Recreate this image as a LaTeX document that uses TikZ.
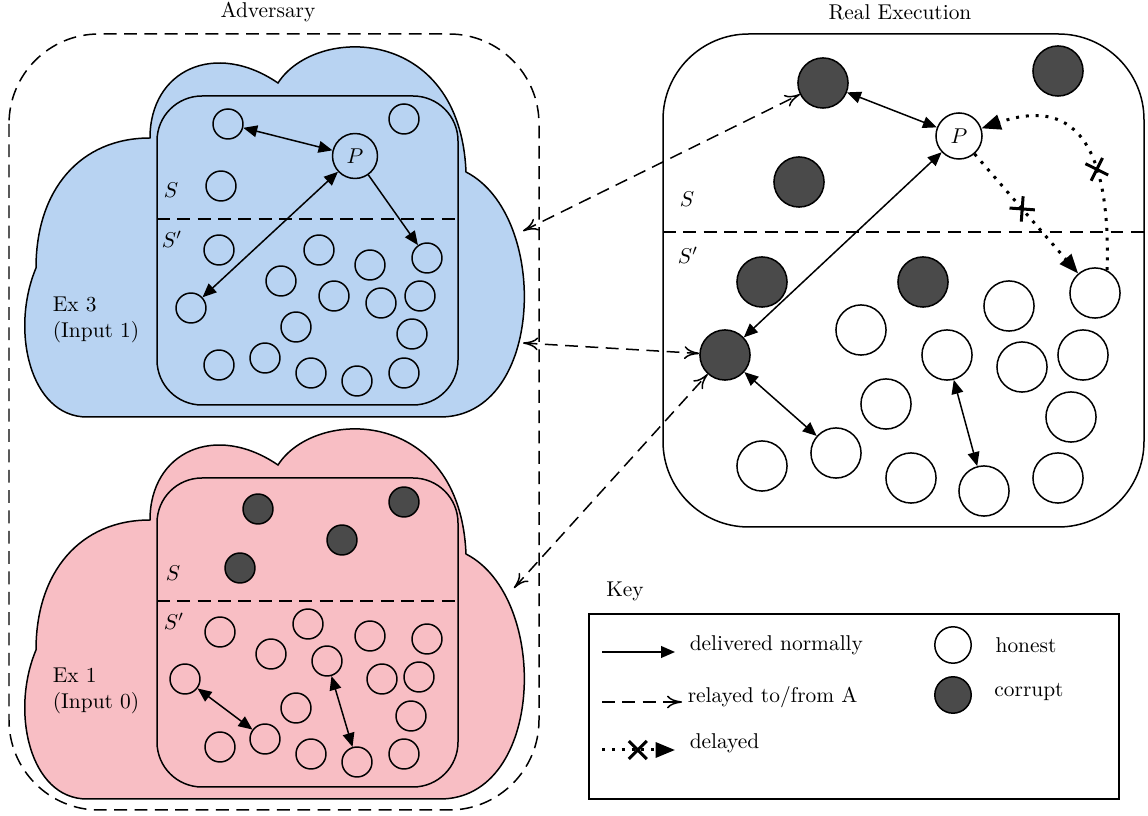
\documentclass[tikz,border=0pt]{standalone}
\usepackage{amsmath, amssymb}
\usepackage{tikz}
\usetikzlibrary{arrows.meta, positioning, shapes.misc}
\definecolor{cloudblue}{RGB}{184,211,242}
\definecolor{cloudpink}{RGB}{248,190,196}
\definecolor{corruptgray}{RGB}{74,74,74}
\tikzset{
    whitenode/.style={circle, draw, minimum size=14pt, inner sep=0pt},
    blacknode/.style={circle, draw, fill=corruptgray, minimum size=14pt, inner sep=0pt},
    bignode/.style={minimum size=23.4pt},
    keynode/.style={minimum size=17pt},
    pnode/.style={circle, draw, minimum size=21pt, inner sep=0pt},
    sepline/.style={dash pattern=on 6pt off 3.5pt},
    relaytip/.tip={Computer Modern Rightarrow[length=7pt,width=6pt]},
    dtip/.tip={Triangle[length=9pt,width=7pt]},
    relay/.style={sepline, relaytip-relaytip},
    delayed/.style={line width=1.4pt, dash pattern=on 1.4pt off 3.2pt, -dtip},
    xmark/.style={cross out, draw, solid, line width=1.4pt, minimum size=7pt, inner sep=0pt},
    keytext/.style={anchor=west, inner sep=0pt}
}

\begin{document}
\begin{tikzpicture}[x=0.467pt, y=-0.467pt, line width=0.7pt, >={Triangle[length=6.5pt,width=5.5pt]}]
\useasboundingbox (0,0) rectangle (1148,816);

% adversary side
\node (adv) at (268,12) {Adversary};
\draw[sepline, rounded corners=42pt] (9,34) rectangle (539,810);
\foreach \dy/\col in {0/cloudblue, 382/cloudpink} {
    \filldraw[fill=\col, shift={(0,\dy)}] (87,417) .. controls (30,417) and (10,330) .. (36,268)
        .. controls (36,190) and (80,138) .. (150,138)
        .. controls (150,70) and (215,40) .. (278,83)
        .. controls (315,25) and (460,25) .. (466,172)
        .. controls (550,215) and (545,417) .. (440,417) -- cycle;
    \draw[shift={(0,\dy)}, rounded corners=21pt] (157,96) rectangle (458,405);
    \draw[sepline, shift={(0,\dy)}] (157,219) -- (458,219);
}
\node[anchor=west, align=left] (ex3) at (45,320) {Ex 3\\(Input 1)};
\node[anchor=west, align=left] (ex1) at (45,691) {Ex 1\\(Input 0)};
\node (sb) at (171,190) {$S$};
\node (sbp) at (172,239) {$S'$};
\node (sp) at (173,573) {$S$};
\node (spp) at (174,621) {$S'$};

% execution 3
\foreach \px/\py [count=\i] in {228/124, 404/119, 221/186, 219/250, 319/250, 370/265, 427/258,
    281/281, 334/296, 381/303, 420/296, 191/308, 296/327, 412/334, 219/365, 265/358, 311/373,
    357/381, 404/373}
    \node[whitenode] (b\i) at (\px,\py) {};
\node[pnode] (bP) at (355,156) {$P$};
\draw[<->] (b1) -- (bP);
\draw[<->] (bP) -- (b12);
\draw[->] (bP) -- (b7);

% execution 1
\foreach \px/\py [count=\i] in {258/509, 404/502, 342/540, 240/568}
    \node[blacknode] (r\i) at (\px,\py) {};
\foreach \px/\py [count=\i] in {220/632, 308/624, 370/636, 427/639, 271/654, 327/661, 185/679,
    382/679, 419/677, 296/708, 411/716, 220/747, 265/739, 311/754, 357/762, 404/754}
    \node[whitenode] (p\i) at (\px,\py) {};
\draw[<->] (p7) -- (p13);
\draw[<->] (p6) -- (p15);

% real execution
\node (real) at (900,12) {Real Execution};
\draw[rounded corners=40pt] (663,34) rectangle (1144,527);
\draw[sepline] (663,232) -- (1144,232);
\node (sr) at (687,199) {$S$};
\node (srp) at (688,255) {$S'$};
\foreach \px/\py [count=\i] in {823/83, 1058/71, 799/182, 762/282, 923/282, 725/355}
    \node[blacknode, bignode] (c\i) at (\px,\py) {};
\foreach \px/\py [count=\i] in {1095/293, 1009/306, 861/330, 947/355, 1022/367, 1083/355,
    886/404, 1071/417, 762/466, 836/453, 911/478, 984/491, 1058/478}
    \node[whitenode, bignode] (w\i) at (\px,\py) {};
\node[pnode, minimum size=21.5pt] (rP) at (959,136) {$P$};
\draw[<->] (c1) -- (rP);
\draw[<->] (rP) -- (c6);
\draw[<->] (c6) -- (w10);
\draw[<->] (w4) -- (w12);
\draw[delayed] (rP) -- node[xmark, sloped, pos=0.46] {} (w1);
\draw[delayed] (w1.62) .. controls (1112,110) and (1050,105) .. node[xmark, sloped, pos=0.28] {} (rP);

% relayed through the adversary
\coordinate (bA) at (523,231);
\coordinate (bB) at (523,343);
\coordinate (pA) at (514,588);
\draw[relay] (bA) -- (c1);
\draw[relay] (bB) -- (c6);
\draw[relay] (pA) -- (c6);

% key
\node (key) at (625,591) {Key};
\draw (589,614) rectangle (1119,799);
\coordinate (k1a) at (602,652);
\coordinate (k1b) at (675,652);
\coordinate (k2a) at (602,702);
\coordinate (k2b) at (682,702);
\coordinate (k3a) at (602,750);
\coordinate (k3b) at (675,750);
\draw[->] (k1a) -- (k1b);
\draw[sepline, -relaytip] (k2a) -- (k2b);
\draw[delayed] (k3a) -- node[xmark, pos=0.49] {} (k3b);
\node[keytext] (t1) at (689,645) {delivered normally};
\node[keytext] (t2) at (687,697) {relayed to/from A};
\node[keytext] (t3) at (689,743) {delayed};
\node[whitenode, keynode] (kh) at (953,645) {};
\node[blacknode, keynode] (kc) at (953,695) {};
\node (th) at (1026,645) {honest};
\node (tc) at (1029,692) {corrupt};
\end{tikzpicture}
\end{document}
